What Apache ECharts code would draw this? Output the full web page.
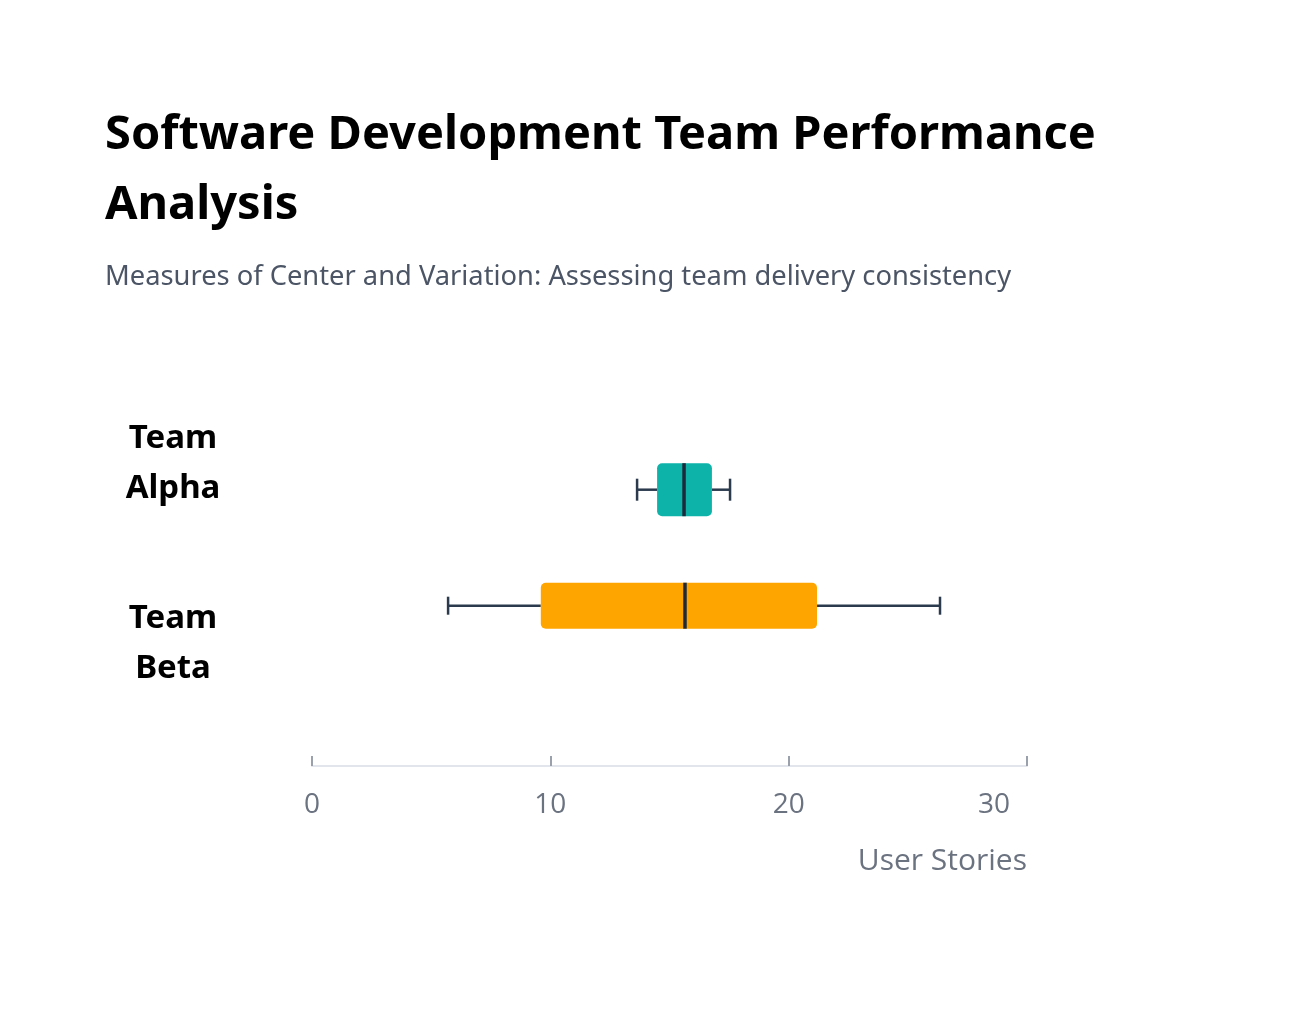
<!DOCTYPE html>
<html>
<head>
<meta charset="utf-8">
<script src="https://cdn.jsdelivr.net/npm/echarts@6/dist/echarts.min.js"></script>
<style>
html,body{margin:0;padding:0;background:#fff;}
#chart{width:1289px;height:1018px;}
</style>
</head>
<body>
<div id="chart"></div>
<script>
// ---- data ----
const teams = ['Team Alpha', 'Team Beta'];
const minValues = [13.64, 5.71];
const q1Values = [14.48, 9.60];
const medianValues = [15.61, 15.65];
const q3Values = [16.78, 21.19];
const maxValues = [17.54, 26.35];
const xTicks = [0, 10, 20, 30];
const teamColors = ['#0db3a9', '#ffa500'];

// ---- styles ----
const boxHeights = [53, 46];
const capHeights = [22, 18];
const whiskerColor = '#2b3a4d';
const medianColor = '#1e293b';

const boxData = teams.map((t, i) => [i, minValues[i], q1Values[i], medianValues[i], q3Values[i], maxValues[i]]);

const chart = echarts.init(document.getElementById('chart'));

function renderBox(params, api) {
  const idx = api.value(0);
  const y = api.coord([0, idx])[1];
  const pMin = api.coord([api.value(1), idx])[0];
  const pQ1 = api.coord([api.value(2), idx])[0];
  const pMed = api.coord([api.value(3), idx])[0];
  const pQ3 = api.coord([api.value(4), idx])[0];
  const pMax = api.coord([api.value(5), idx])[0];
  const bh = boxHeights[idx];
  const ch = capHeights[idx];
  const lineStyle = { stroke: whiskerColor, lineWidth: 2.5 };
  return {
    type: 'group',
    children: [
      { type: 'line', shape: { x1: pMin, y1: y, x2: pQ1, y2: y }, style: lineStyle },
      { type: 'line', shape: { x1: pQ3, y1: y, x2: pMax, y2: y }, style: lineStyle },
      { type: 'line', shape: { x1: pMin, y1: y - ch / 2, x2: pMin, y2: y + ch / 2 }, style: lineStyle },
      { type: 'line', shape: { x1: pMax, y1: y - ch / 2, x2: pMax, y2: y + ch / 2 }, style: lineStyle },
      { type: 'rect', shape: { x: pQ1, y: y - bh / 2, width: pQ3 - pQ1, height: bh, r: 5 },
        style: { fill: teamColors[idx] } },
      { type: 'line', shape: { x1: pMed, y1: y - bh / 2, x2: pMed, y2: y + bh / 2 },
        style: { stroke: medianColor, lineWidth: 3.5 } }
    ]
  };
}

const maxTick = xTicks[xTicks.length - 1];

const option = {
  backgroundColor: '#ffffff',
  animation: false,
  title: [
    {
      text: 'Software Development Team Performance Analysis',
      left: 100, top: 96,
      textStyle: {
        fontFamily: 'Noto Sans', fontWeight: 'bold', fontSize: 47, color: '#000000',
        lineHeight: 70, width: 1060, overflow: 'break'
      }
    },
    {
      text: 'Measures of Center and Variation: Assessing team delivery consistency',
      left: 100, top: 259,
      textStyle: { fontFamily: 'Noto Sans', fontWeight: 'normal', fontSize: 27.3, color: '#4b5565' }
    }
  ],
  grid: [
    { left: 312, right: 262, top: 373.25, height: 361 },
    { left: 312, right: 262, top: 431.7, height: 232 }
  ],
  xAxis: [
    {
      gridIndex: 0, type: 'value', min: 0, max: 30, interval: 10,
      offset: 31.75,
      axisLine: { show: true, lineStyle: { color: '#e2e5eb', width: 2 } },
      axisTick: { show: true, inside: true, length: 10, lineStyle: { color: '#9aa1ad', width: 2 } },
      splitLine: { show: false },
      axisLabel: {
        margin: 25, fontFamily: 'Open Sans', fontSize: 28, color: '#6b7280',
        alignMaxLabel: 'right',
        formatter: v => !xTicks.includes(v) ? '' : (v === maxTick ? '{last|' + v + '}' : String(v)),
        rich: {
          last: { fontFamily: 'Open Sans', fontSize: 28, color: '#6b7280', padding: [0, 17, 0, 0] }
        }
      },
      name: 'User Stories', nameLocation: 'end', nameGap: 0,
      nameTextStyle: {
        fontFamily: 'Open Sans', fontSize: 30, color: '#6b7280',
        align: 'right', verticalAlign: 'top', padding: [80, 0, 0, 0]
      }
    },
    {
      gridIndex: 1, type: 'value', min: 0, max: 30, interval: 10, show: false
    }
  ],
  yAxis: [
    {
      gridIndex: 0, type: 'category', data: teams, inverse: true,
      axisLine: { show: false }, axisTick: { show: false }, splitLine: { show: false },
      axisLabel: {
        margin: 139, align: 'center', fontFamily: 'Noto Sans', fontWeight: 'bold',
        fontSize: 33, color: '#000000', lineHeight: 50,
        formatter: v => v.split(' ').join('\n')
      }
    },
    {
      gridIndex: 1, type: 'category', data: teams, inverse: true, show: false
    }
  ],
  series: [
    {
      type: 'custom',
      xAxisIndex: 1, yAxisIndex: 1,
      renderItem: renderBox,
      encode: { x: [1, 2, 3, 4, 5], y: 0 },
      data: boxData
    }
  ]
};

chart.setOption(option);
</script>
</body>
</html>
